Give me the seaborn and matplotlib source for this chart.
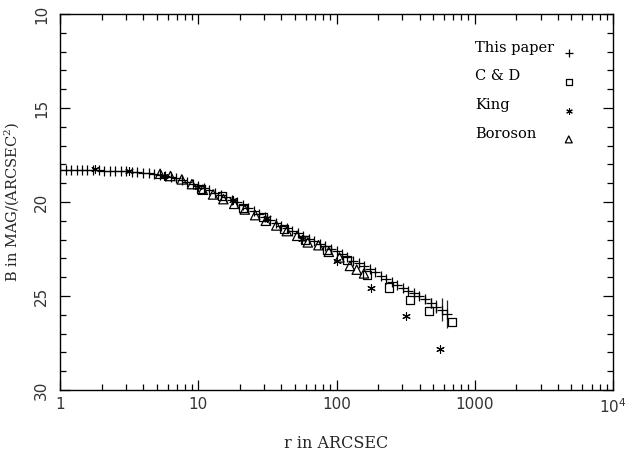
import matplotlib
matplotlib.use("Agg")
import matplotlib.pyplot as plt
import matplotlib.ticker as ticker
import seaborn as sns

# Surface brightness profile, "This paper" (r in arcsec, B in mag/arcsec^2)
r_paper = [1.00, 1.10, 1.20, 1.32, 1.45, 1.58, 1.74, 1.91, 2.09, 2.29,
           2.51, 2.75, 3.02, 3.31, 3.63, 3.98, 4.37, 4.79, 5.25, 5.75,
           6.31, 6.92, 7.59, 8.32, 9.12, 10.0, 11.0, 12.0, 13.2, 14.5,
           15.8, 17.4, 19.1, 20.9, 22.9, 25.1, 27.5, 30.2, 33.1, 36.3,
           39.8, 43.7, 47.9, 52.5, 57.5, 63.1, 69.2, 75.9, 83.2, 91.2,
           100, 110, 120, 132, 145, 158, 174, 191, 209, 229,
           251, 275, 302, 331, 363, 398, 437, 479, 525, 575, 631]
mu_paper = [18.28, 18.28, 18.29, 18.29, 18.30, 18.30, 18.31, 18.32, 18.33, 18.34,
            18.35, 18.36, 18.37, 18.39, 18.41, 18.44, 18.47, 18.51, 18.55, 18.60,
            18.66, 18.73, 18.81, 18.91, 19.03, 19.15, 19.26, 19.38, 19.50, 19.63,
            19.76, 19.89, 20.02, 20.17, 20.33, 20.50, 20.66, 20.82, 20.97, 21.11,
            21.25, 21.39, 21.53, 21.67, 21.81, 21.95, 22.09, 22.23, 22.36, 22.49,
            22.62, 22.78, 22.95, 23.12, 23.27, 23.41, 23.54, 23.72, 23.91, 24.08,
            24.25, 24.42, 24.57, 24.71, 24.84, 25.00, 25.18, 25.38, 25.57, 25.73, 25.95]
err_paper = [0.05] * 60 + [0.06, 0.07, 0.08, 0.10, 0.12, 0.15, 0.20, 0.26, 0.36, 0.60, 0.75]

# C & D
r_cd = [10.4, 14.8, 21.0, 29.5, 42.0, 59.0, 85.0, 120, 167, 239, 338, 470, 680]
mu_cd = [19.30, 19.70, 20.30, 20.80, 21.45, 22.00, 22.55, 23.10, 23.90, 24.55, 25.20, 25.80, 26.40]

# King
r_king = [1.78, 3.16, 5.62, 10.0, 17.8, 31.6, 56.2, 100, 178, 316, 562]
mu_king = [18.25, 18.35, 18.60, 19.20, 19.90, 20.85, 21.95, 23.15, 24.60, 26.05, 27.80]

# Boroson
r_boro = [5.3, 6.3, 7.6, 9.0, 10.8, 12.8, 15.2, 18.2, 21.7, 25.8,
          30.8, 36.7, 43.7, 52.0, 62.0, 74.0, 88.0, 105, 125, 140, 158]
mu_boro = [18.50, 18.62, 18.80, 19.05, 19.35, 19.60, 19.85, 20.10, 20.40, 20.70,
           21.00, 21.25, 21.55, 21.80, 22.15, 22.30, 22.65, 22.95, 23.40, 23.60, 23.80]

series_names = ["This paper", "C & D", "King", "Boroson"]
x_ticks = [1, 10, 100, 1000, 10000]
x_tick_labels = ["1", "10", "100", "1000", "$10^4$"]
y_ticks = [10, 15, 20, 25, 30]

sns.set_style("ticks")
plt.rcParams["font.family"] = ["DejaVu Serif"]
plt.rcParams["mathtext.default"] = "regular"

fig = plt.figure(figsize=(6.26, 4.53), dpi=100)
ax = fig.add_axes([60 / 626, 1 - 390 / 453, 553 / 626, 376 / 453])

# error bars of this paper, then the four data sets
ax.errorbar(r_paper, mu_paper, yerr=err_paper, fmt="none", ecolor="#222222", elinewidth=0.9)
styles = [
    dict(marker="+", s=55, color="black", linewidth=0.9),
    dict(marker="s", s=34, color="black", facecolor="none", edgecolor="black", linewidth=0.9),
    dict(marker=(6, 2, 0), s=30, color="black", linewidth=0.8),
    dict(marker="^", s=45, color="black", facecolor="none", edgecolor="black", linewidth=0.9),
]
datasets = [(r_paper, mu_paper), (r_cd, mu_cd), (r_king, mu_king), (r_boro, mu_boro)]
for (xs, ys), st in zip(datasets, styles):
    sns.scatterplot(x=xs, y=ys, ax=ax, legend=False, zorder=3, **st)

# key in the upper right, text left-aligned, symbols in a column
for i, (name, st) in enumerate(zip(series_names, styles)):
    yb = 0.9 - i * 0.0765
    ax.text(0.75, yb, name, transform=ax.transAxes, fontsize=10.5,
            ha="left", va="baseline", color="black")
    key = dict(st)
    key["s"] = st["s"] * 0.55
    ax.scatter([0.92], [yb - 0.004], transform=ax.transAxes, clip_on=False, **key)

ax.set_xscale("log")
ax.set_xlim(1, 1e4)
ax.set_ylim(30, 10)
ax.set_xticks(x_ticks, x_tick_labels)
ax.xaxis.set_minor_locator(ticker.LogLocator(base=10, subs=range(2, 10), numticks=20))
ax.xaxis.set_minor_formatter(ticker.NullFormatter())
ax.set_yticks(y_ticks)
ax.yaxis.set_minor_locator(ticker.MultipleLocator(1))

for lab in ax.get_xticklabels() + ax.get_yticklabels():
    lab.set_family("DejaVu Sans")
    lab.set_fontsize(11)
    lab.set_color("#333333")
for lab in ax.get_yticklabels():
    lab.set_rotation(90)
    lab.set_va("center")

ax.tick_params(which="both", direction="in", top=True, right=True, width=0.9, color="black")
ax.tick_params(which="major", length=7)
ax.tick_params(which="minor", length=4)
ax.tick_params(axis="x", pad=5)
ax.tick_params(axis="y", pad=8)
for sp in ax.spines.values():
    sp.set_linewidth(1.0)
    sp.set_color("black")

ax.set_xlabel("r in ARCSEC", fontsize=11.5, labelpad=14)
ax.set_ylabel("B in MAG/(ARCSEC$^2$)", fontsize=10.5, labelpad=9)

fig.savefig("out.png", dpi=100)
